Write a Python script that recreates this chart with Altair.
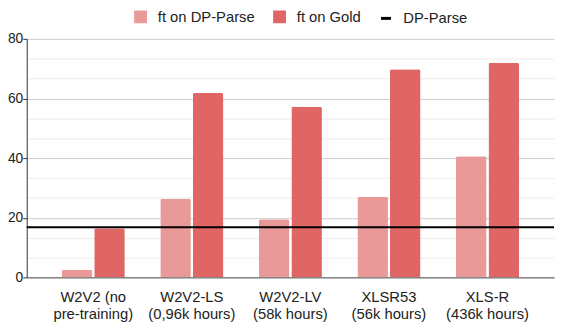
import altair as alt
import pandas as pd

models = ["W2V2 (no\npre-training)", "W2V2-LS\n(0,96k hours)", "W2V2-LV\n(58k hours)",
          "XLSR53\n(56k hours)", "XLS-R\n(436k hours)"]
ft_dp_parse = [2.5, 26.4, 19.5, 27.0, 40.6]
ft_gold = [16.5, 61.8, 57.2, 69.8, 72.0]
dp_parse_baseline = [16.8]

series_names = ["ft on DP-Parse", "ft on Gold", "DP-Parse"]
colors = ["#ea9999", "#e06666", "#000000"]
y_ticks = [0, 6.667, 13.333, 20, 26.667, 33.333, 40, 46.667, 53.333, 60, 66.667, 73.333, 80]

rows = []
for m, a, b in zip(models, ft_dp_parse, ft_gold):
    rows.append({"model": m, "series": series_names[0], "value": a})
    rows.append({"model": m, "series": series_names[1], "value": b})
bars_df = pd.DataFrame(rows)
rule_df = pd.DataFrame({"series": [series_names[2]], "value": dp_parse_baseline})

FONT = "Liberation Sans"
major = "abs(datum.value % 20) < 0.01"

color = alt.Color(
    "series:N",
    scale=alt.Scale(domain=series_names, range=colors),
    legend=alt.Legend(
        title=None, orient="none", direction="horizontal",
        legendX=108, legendY=-30,
        symbolType={"expr": "datum.value === 'DP-Parse' ? 'stroke' : 'square'"},
        symbolStrokeColor={"expr": "datum.value === 'DP-Parse' ? '#000' : 'transparent'"},
        symbolStrokeWidth=3, symbolSize=100, symbolOpacity=1,
        labelFontSize=15, labelFont=FONT, labelColor="#222",
        labelOffset=10, columnPadding=13,
    ),
)

y = alt.Y(
    "value:Q",
    scale=alt.Scale(domain=[0, 80], nice=False),
    axis=alt.Axis(
        title=None, values=y_ticks, tickCount=20, labelOverlap=False,
        labelExpr=f"{major} ? datum.label : ''",
        gridColor={"condition": {"test": major, "value": "#cccccc"}, "value": "#ececec"},
        tickOpacity={"condition": {"test": major, "value": 1}, "value": 0},
        tickSize=4, tickColor="#333", domainColor="#333",
        labelFontSize=14, labelFont=FONT, labelColor="#222", labelPadding=0,
    ),
)

bars = alt.Chart(bars_df).mark_bar(cornerRadiusTopLeft=2, cornerRadiusTopRight=2).encode(
    x=alt.X(
        "model:N", sort=models,
        scale=alt.Scale(paddingInner=0.36, paddingOuter=0.355),
        axis=alt.Axis(
            title=None, labelAngle=0, ticks=False, domainColor="#555",
            labelExpr="split(datum.label, '\\n')", labelLineHeight=18,
            labelFontSize=15, labelFont=FONT, labelColor="#222", labelPadding=12,
        ),
    ),
    xOffset=alt.XOffset("series:N", sort=series_names[:2], scale=alt.Scale(paddingInner=0.06)),
    y=y,
    color=color,
)

rule = alt.Chart(rule_df).mark_rule(strokeWidth=2).encode(
    y=alt.Y("value:Q"),
    color=alt.Color("series:N"),
)

chart = alt.layer(bars, rule).properties(
    width=535, height=242,
    autosize=alt.AutoSizeParams(type="none"),
    padding={"left": 19, "top": 29, "right": 2, "bottom": 43},
).configure_view(stroke=None)

chart.save("out.html", embed_options={"renderer": "svg", "actions": False})
